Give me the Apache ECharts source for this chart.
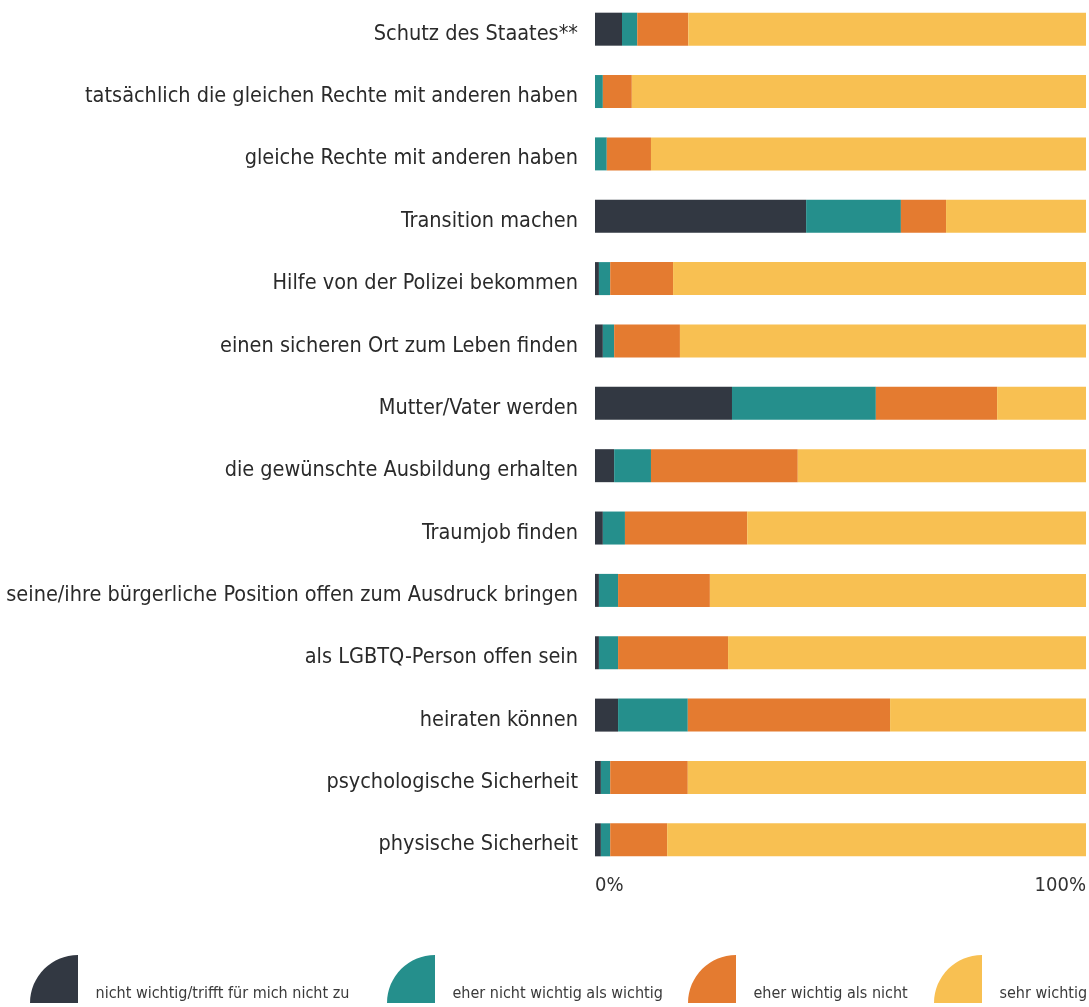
<!DOCTYPE html>
<html>
<head>
<meta charset="utf-8">
<script src="https://cdn.jsdelivr.net/npm/echarts@6/dist/echarts.min.js"></script>
<style>
    html, body { margin: 0; padding: 0; background: #fff; }
    #chart { width: 1089px; height: 1007px; }
</style>
</head>
<body>
<div id="chart"></div>
<script>
// Kategorien (von oben nach unten)
const categories = [
    'Schutz des Staates**',
    'tatsächlich die gleichen Rechte mit anderen haben',
    'gleiche Rechte mit anderen haben',
    'Transition machen',
    'Hilfe von der Polizei bekommen',
    'einen sicheren Ort zum Leben finden',
    'Mutter/Vater werden',
    'die gewünschte Ausbildung erhalten',
    'Traumjob finden',
    'seine/ihre bürgerliche Position offen zum Ausdruck bringen',
    'als LGBTQ-Person offen sein',
    'heiraten können',
    'psychologische Sicherheit',
    'physische Sicherheit'
];

const seriesNames = [
    'nicht wichtig/trifft für mich nicht zu',
    'eher nicht wichtig als wichtig',
    'eher wichtig als nicht',
    'sehr wichtig'
];

// Anteile in %
const nichtWichtig = [5.5, 0, 0, 43.0, 0.8, 1.6, 27.9, 3.9, 1.6, 0.8, 0.8, 4.7, 1.2, 1.2];
const eherNicht    = [3.1, 1.6, 2.4, 19.3, 2.3, 2.3, 29.3, 7.5, 4.5, 3.9, 3.9, 14.2, 1.9, 1.9];
const eherWichtig  = [10.4, 5.9, 9.0, 9.2, 12.8, 13.4, 24.7, 29.9, 24.9, 18.7, 22.4, 41.2, 15.8, 11.6];
const sehrWichtig  = [81.0, 92.5, 88.6, 28.5, 84.1, 82.7, 18.1, 58.7, 69.0, 76.6, 72.9, 39.9, 81.1, 85.3];

const colors = ['#323842', '#258f8c', '#e47b30', '#f8c052'];
const values = [nichtWichtig, eherNicht, eherWichtig, sehrWichtig];

const labelFont = '"Liberation Sans Narrow", "DejaVu Sans Condensed", sans-serif';
const quarter = 'path://M0,1 C0,0.448 0.448,0 1,0 L1,1 Z';
const legendLeft = [30, 387, 688, 934];

const chart = echarts.init(document.getElementById('chart'));

const option = {
    animation: false,
    grid: {
        left: 595,
        right: 3,
        top: -2,
        height: 873,
        containLabel: false,
        outerBoundsMode: 'none'
    },
    // eine Legende pro Eintrag, damit die Abstände stimmen
    legend: seriesNames.map((name, i) => ({
        data: [name],
        left: legendLeft[i],
        top: 949,
        padding: 0,
        itemWidth: 49,
        itemHeight: 48,
        icon: quarter,
        formatter: '\n{name}',
        textStyle: {
            fontFamily: labelFont,
            fontSize: 16,
            lineHeight: 30,
            color: '#3a3a3a',
            padding: [0, 0, 0, 12]
        }
    })),
    xAxis: {
        type: 'value',
        min: 0,
        max: 100,
        interval: 100,
        splitLine: { show: false },
        axisLine: { show: false },
        axisTick: { show: false },
        axisLabel: {
            formatter: '{value}%',
            fontFamily: labelFont,
            fontSize: 20,
            color: '#333',
            margin: 5,
            alignMinLabel: 'left',
            alignMaxLabel: 'right'
        }
    },
    yAxis: {
        type: 'category',
        inverse: true,
        data: categories,
        axisLine: { show: false },
        axisTick: { show: false },
        axisLabel: {
            margin: 17,
            formatter: '{a|{value}}',
            rich: {
                a: {
                    fontFamily: labelFont,
                    fontSize: 21.5,
                    color: '#2a2a2a',
                    padding: [10, 0, 0, 0]
                }
            }
        }
    },
    series: seriesNames.map((name, i) => ({
        name: name,
        type: 'bar',
        stack: 'total',
        barWidth: 33,
        itemStyle: { color: colors[i] },
        data: values[i]
    }))
};

chart.setOption(option);
</script>
</body>
</html>
